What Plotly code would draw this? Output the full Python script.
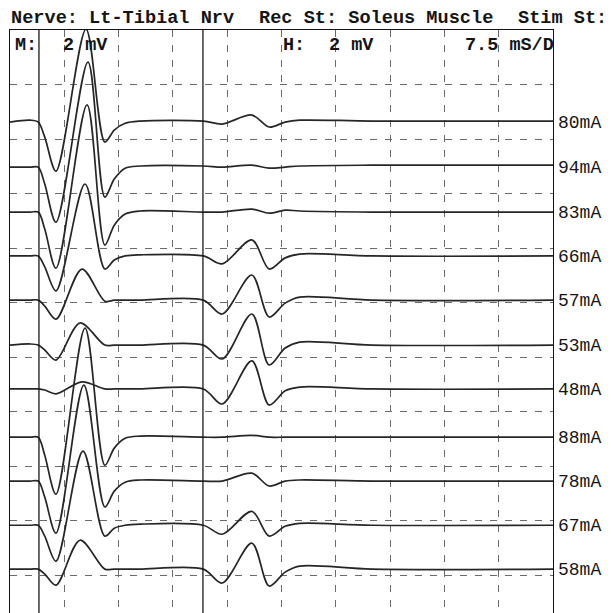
import plotly.graph_objects as go

# ---------------- data ----------------
labels = ["80mA", "94mA", "83mA", "66mA", "57mA", "53mA", "48mA", "88mA", "78mA", "67mA", "58mA"]
# baseline of each sweep (mV, measured from top of the grid; 2 mV/div)
baseline_mv = [-3.38, -5.03, -6.68, -8.29, -9.91, -11.56, -13.17, -14.94, -16.55, -18.17, -19.78]
# latency of the M-wave positive peak for each sweep (ms)
m_peak_ms = [10.5, 10.77, 10.64, 10.36, 9.94, 9.67, 9.94, 10.36, 10.2, 10.08, 9.67]

# shared sample latencies (ms); the M peak latency is inserted between pre and post
t_pre = [0.0, 2.8, 3.9, 4.8, 6.35]
t_post = [13.1, 14.4, 15.9, 18.0, 26.7, 29.3, 33.4, 35.8, 38.0, 40.0, 50.0, 75.0]

# amplitudes (mV, relative to baseline) at t_pre + [peak] + t_post
amp_80 = [0, 0.07, 0, -0.55, -1.80, 3.41, -0.73, -0.29, -0.04, 0.04, 0.04, -0.07, 0.26, -0.18, 0, 0.07, 0.04, 0.04]
amp_94 = [0, 0, 0, -0.62, -2.02, 3.85, -1.10, -0.44, -0.04, 0.04, 0.04, 0, 0.07, -0.04, 0, 0.04, 0.07, 0.07]
amp_83 = [0, 0, 0, -0.62, -2.06, 3.93, -1.21, -0.48, -0.07, 0.04, 0, 0, 0.11, -0.04, 0.07, 0.04, 0, 0]
amp_66 = [0, 0, 0, -0.40, -1.28, 2.64, -0.48, -0.15, 0, 0.04, 0, -0.29, 0.59, -0.48, -0.07, 0.07, 0, 0]
amp_57 = [0, 0, 0, -0.22, -0.70, 1.14, -0.04, 0, 0, 0, 0, -0.51, 0.92, -0.62, -0.11, 0.11, 0, 0]
amp_53 = [0, 0.04, 0, -0.18, -0.55, 0.81, 0, 0, 0, 0, 0, -0.51, 1.14, -0.73, -0.11, 0.11, 0, 0]
amp_48 = [0, 0, 0, -0.04, -0.18, 0.26, 0, 0, 0, 0, 0, -0.55, 1.03, -0.59, -0.07, 0.07, 0, 0]
amp_88 = [0, 0, 0, -0.66, -2.09, 4.00, -1.03, -0.40, -0.04, 0.04, 0, 0, 0.07, 0, 0, 0, 0, 0]
amp_78 = [0, 0, 0, -0.59, -1.91, 3.52, -0.95, -0.37, -0.04, 0.04, 0, 0, 0.29, -0.18, 0, 0.04, 0, 0]
amp_67 = [0, 0, 0, -0.40, -1.32, 2.72, -0.40, -0.11, 0, 0.04, 0, -0.33, 0.51, -0.40, -0.04, 0.07, 0, 0]
amp_58 = [0, 0, 0, -0.18, -0.59, 1.06, 0, 0, 0, 0, 0, -0.51, 0.95, -0.62, -0.11, 0.11, 0, 0]
amplitudes = [amp_80, amp_94, amp_83, amp_66, amp_57, amp_53, amp_48, amp_88, amp_78, amp_67, amp_58]

m_cursor_ms = 4.0
h_cursor_ms = 26.65
sweep_ms = 75.0           # 10 div x 7.5 ms/D
y_span_mv = 21.39         # visible vertical extent (2 mV/div)

# ---------------- figure ----------------
BODY = 8                  # default page margin of the html body
W, H = 611 - BODY, 613 - BODY
ML, MR, MT, MB = 10 - BODY, 58, 30 - BODY, 0
PW = W - ML - MR


def px_to_paper_x(px):
    # px: horizontal position in the browser window
    return (px - BODY - ML) / PW


INK = "#262626"
GRID = "#6a6a6a"
MONO = "Liberation Mono, Courier New, monospace"

fig = go.Figure()
for lab, base, pk, amp in zip(labels, baseline_mv, m_peak_ms, amplitudes):
    t = t_pre + [pk] + t_post
    y = [base + a for a in amp]
    fig.add_trace(go.Scatter(x=t, y=y, mode="lines", name=lab,
                             line=dict(color=INK, width=1.7, shape="spline", smoothing=0.9),
                             hoverinfo="skip", showlegend=False))
    fig.add_annotation(x=1.0, xref="paper", y=base, yref="y", text=lab, showarrow=False,
                       xanchor="left", yanchor="middle", xshift=3, yshift=-1,
                       font=dict(family=MONO, size=18, color="#151515"))

for c in (m_cursor_ms, h_cursor_ms):
    fig.add_shape(type="line", x0=c, x1=c, xref="x", y0=0, y1=1, yref="paper",
                  line=dict(color="#1a1a1a", width=1.3))

# header line (above the grid)
header = [("Nerve: Lt-Tibial Nrv", 9), ("Rec St: Soleus Muscle", 257), ("Stim St:", 516)]
for txt, px in header:
    fig.add_annotation(x=px_to_paper_x(px), xref="paper", y=1.0, yref="paper",
                       text=f"<b>{txt}</b>", showarrow=False,
                       xanchor="left", yanchor="bottom", yshift=-1,
                       font=dict(family=MONO, size=18.6, color="#151515"))

# scale row inside the grid
row = [("M:", 13), ("2 mV", 61), ("H:", 281), ("2 mV", 327), ("7.5 mS/D", 463)]
for txt, px in row:
    fig.add_annotation(x=px_to_paper_x(px), xref="paper", y=1.0, yref="paper",
                       text=f"<b>{txt}</b>", showarrow=False, xanchor="left",
                       yanchor="middle", yshift=-15,
                       font=dict(family=MONO, size=18.5, color="#151515"))

fig.update_layout(
    width=W, height=H, margin=dict(l=ML, r=MR, t=MT, b=MB),
    paper_bgcolor="white", plot_bgcolor="white",
    xaxis=dict(range=[0, sweep_ms], dtick=7.5, tick0=0, showticklabels=False, ticks="",
               showgrid=True, gridcolor=GRID, gridwidth=1, griddash="7px,8px",
               zeroline=False, showline=True, side="top", linecolor="#111", linewidth=1.4,
               mirror=False),
    yaxis=dict(range=[-y_span_mv, 0], dtick=2, tick0=0, showticklabels=False, ticks="",
               showgrid=True, gridcolor=GRID, gridwidth=1, griddash="7px,8px",
               zeroline=False, showline=True, mirror=True, linecolor="#111", linewidth=1.4),
)

fig.write_html("out.html")
